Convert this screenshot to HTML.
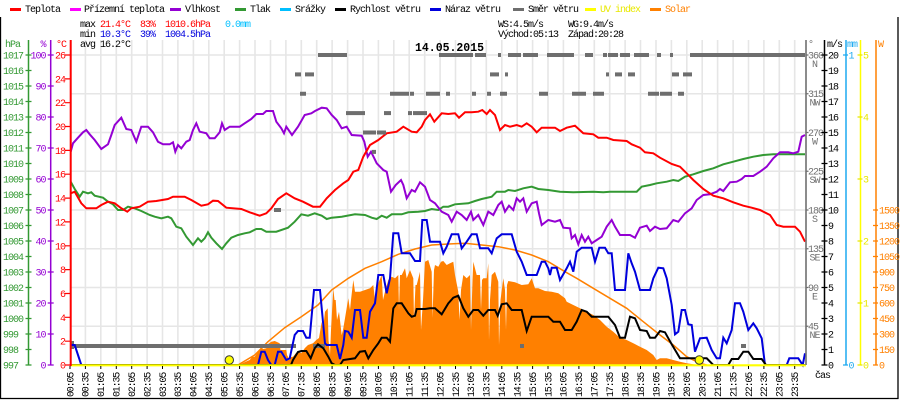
<!DOCTYPE html>
<html><head><meta charset="utf-8"><style>
html,body{margin:0;padding:0;background:#fff;}
svg{display:block;}
text{font-family:"Liberation Mono","DejaVu Sans Mono",monospace;font-size:10px;letter-spacing:-1px;}
.b{font-weight:bold;font-size:11.5px;letter-spacing:0;}
.xl text{letter-spacing:-1.2px;}
</style></head><body>
<svg width="900" height="400" viewBox="0 0 900 400" xmlns="http://www.w3.org/2000/svg">
<rect x="0" y="0" width="900" height="400" fill="#fff"/>
<!-- frame -->
<path d="M0.5 17V399M898 17V399M0 398.5H898.5" stroke="#000" stroke-width="1.3" fill="none"/>

<!-- legend -->
<g>
<rect x="10" y="8" width="11" height="3" fill="#ff0000"/><text x="25" y="12">Teplota</text>
<rect x="70" y="8" width="11" height="3" fill="#ff00ff"/><text x="84" y="12">Přízemní teplota</text>
<rect x="170" y="8" width="11" height="3" fill="#9400d3"/><text x="185" y="12">Vlhkost</text>
<rect x="235" y="8" width="11" height="3" fill="#339933"/><text x="250" y="12">Tlak</text>
<rect x="280" y="8" width="11" height="3" fill="#00bfff"/><text x="295" y="12">Srážky</text>
<rect x="335" y="8" width="11" height="3" fill="#000"/><text x="350" y="12">Rychlost větru</text>
<rect x="430" y="8" width="11" height="3" fill="#0000dd"/><text x="445" y="12">Náraz větru</text>
<rect x="513" y="8" width="11" height="3" fill="#6e6e6e"/><text x="528" y="12">Směr větru</text>
<rect x="585" y="8" width="11" height="3" fill="#ffff00"/><text x="600" y="12" fill="#e8e800">UV index</text>
<rect x="650" y="8" width="11" height="3" fill="#ff8000"/><text x="665" y="12" fill="#ff8000">Solar</text>
</g>

<!-- stats -->
<text x="80" y="27">max</text><text x="100" y="27" fill="#ff0000">21.4°C</text><text x="140" y="27" fill="#ff0000">83%</text><text x="165" y="27" fill="#ff0000">1010.6hPa</text><text x="225" y="27" fill="#00bfff">0.0mm</text>
<text x="80" y="37">min</text><text x="100" y="37" fill="#0000dd">10.3°C</text><text x="140" y="37" fill="#0000dd">39%</text><text x="165" y="37" fill="#0000dd">1004.5hPa</text>
<text x="498" y="27">WS:4.5m/s</text><text x="568" y="27">WG:9.4m/s</text>
<text x="498" y="37">Východ:05:13</text><text x="568" y="37">Západ:20:28</text>

<!-- grid -->
<path d="M85.4 40V365M100.8 40V365M116.3 40V365M131.7 40V365M147.1 40V365M162.5 40V365M177.9 40V365M193.4 40V365M208.8 40V365M224.2 40V365M239.6 40V365M255 40V365M270.5 40V365M285.9 40V365M301.3 40V365M316.7 40V365M332.1 40V365M347.6 40V365M363 40V365M378.4 40V365M393.8 40V365M409.2 40V365M424.7 40V365M440.1 40V365M455.5 40V365M470.9 40V365M486.3 40V365M501.8 40V365M517.2 40V365M532.6 40V365M548 40V365M563.4 40V365M578.9 40V365M594.3 40V365M609.7 40V365M625.1 40V365M640.5 40V365M656 40V365M671.4 40V365M686.8 40V365M702.2 40V365M717.6 40V365M733.1 40V365M748.5 40V365M763.9 40V365M779.3 40V365M794.7 40V365" stroke="#e6e6e6" stroke-width="1.6" fill="none"/>
<path d="M70 55H806M70 93.75H806M70 132.5H806M70 171.25H806M70 210H806M70 248.75H806M70 287.5H806M70 326.25H806" stroke="#e6e6e6" stroke-width="1.6" fill="none"/>

<text x="80" y="47">avg 16.2°C</text>
<text x="415" y="51" class="b">14.05.2015</text>

<!-- solar area -->
<polygon fill="#ff8000" points="234,365 241,364 245,362 249.7,360 252,357 254.7,356.7 258,352 261.3,346.7 263,349 266.3,348.3 268,344 271.3,341.7 274.7,341 277,342 279.7,343.3 280.5,350 286.3,350 287,355 289.7,360 291,357 293,356.7 296,353 298,351.7 301.3,353.3 304.7,348.3 308,345 313,343.3 316.3,340 319,338 321.7,321.7 323,330 325,311.7 327.7,308.3 328.5,340 330,355 331,330 333.3,288.3 334.5,300 335.7,300 337,320 339,311.7 341.7,335 343,330 345,318.3 348.3,298.3 350,310 351,300 353.3,280 355,291.7 360,291.7 365,290 370,288.3 373.3,285 375,300 376,290 378.3,283.3 381.7,275 383,300 385,291.7 388.3,280 391.7,276.7 395,278.3 398.3,275 399,310 400,275 401.7,275 405,268.3 406.7,278.3 410,270 413.3,278.3 414,320 415.5,285 416.7,285 420,271.7 421,330 423,300 425,261.7 428.3,260 431.7,271.7 432.5,318 434,270 435,265 438.3,266.7 441,261.7 443.3,261 446.7,265 450,263.3 453.3,261.7 455,275 458.3,291.7 459.5,320 461,290 463.3,275 466.7,278.3 470,275 471,330 472.5,280 473.3,261.7 476.7,275 480,275 481,310 482,280 483.3,278.3 486.7,278.3 488.3,263.3 489,340 490,300 491.7,275 495,271.7 498.3,281.7 499,345 500.5,300 503.3,278.3 505,290 506,330 507,285 508.3,281 515,282.3 521.7,285 528.3,284.3 531.7,278.3 535,288.3 538.3,288.3 545,291 551.7,291.7 558.3,293.3 565,298.3 566.7,301.7 573.3,305 580,308.3 586.7,311.7 593.3,315 600,320 606.7,326.7 613.3,331.7 620,337.7 626.7,340 633.3,343.3 640,346.7 646.7,350 653.3,355 656.7,360 660,358.3 666.7,358.3 673.3,360 680,361.7 686.7,363.3 693.3,364.3 700,365"/>
<!-- theoretical solar -->
<polyline fill="none" stroke="#ff8000" stroke-width="1.5" points="238,365 254.7,355 268,341.7 284.7,327.7 301.3,316.7 318,305 331.7,290 348.3,278.3 365,268.3 381.7,261.7 398.3,254.3 415,249 431.7,245 448.3,244 465,243.3 481.7,245 498.3,246.7 515,250 531.7,255 548.3,261.7 565,271.7 576.7,278.3 593.3,288.3 610,298.3 626.7,308.3 643.3,321.7 660,335 673.3,345 686.7,356.7 700,363.3 706.7,365"/>

<!-- pressure -->
<polyline fill="none" stroke="#339933" stroke-width="2" points="70.7,181.7 74.7,189 79.7,196.7 83,191.7 88,193.3 91.3,192.3 94.7,195.7 103,197.7 108,201.7 113,204.3 118,210 123,210 128,206.7 134.7,208.3 141.3,211 149.7,215 154.7,216.7 161.3,218.3 168,216.7 171.3,218.3 176.3,226.7 181.3,228.3 186.3,236.7 193,245 198,238.3 201.3,241.7 204.7,238.3 208,232.3 211.3,237.7 216.3,243.3 222,249 226.3,243.3 231.3,237.7 238,235 244.7,233.3 249.7,232.3 256.3,229 261.3,229 266.3,231.7 276.3,231.7 288,227.7 294.7,221.7 301.3,214.3 308,215.7 314.7,213.3 321.7,215.7 326.7,219 331.7,217.7 341.7,216.7 355,214.3 365,215 371.7,217.7 376.7,219 381.7,215.7 386.7,217.7 391.7,214.3 401.7,214.3 408.3,212.3 418.3,211.7 425,211 431.7,209 438.3,210 443.3,206.7 448.3,206.7 455,204.3 468.3,203.3 475,201 481.7,199 491.7,196.7 496.7,191.7 505,191.7 508.3,190 515,191 523.3,188.3 531.7,186.7 538.3,189 548.3,190 560,191.7 573.3,192.3 593.3,191.7 603.3,192.3 610,191.7 636.7,191.7 641.7,186.7 650,185 656.7,183.3 666.7,181.7 673.3,180 678.3,181 685,176.7 693.3,174.3 703.3,171 713.3,168.3 723.3,164.3 733.3,161.7 743.3,159 753.3,156.7 763.3,155 773.3,154.3 786.7,154.3 805,154.3"/>
<!-- humidity -->
<polyline fill="none" stroke="#9400d3" stroke-width="2" points="70.7,151.7 73,143.3 78,137.7 83,132.3 86.3,130 89.7,134.3 94.7,140 101.3,149 108,144.3 111.3,135 114.7,125 121.3,117.7 126.3,129 131.3,130 136.3,141.7 141.3,126.7 148,126.7 153,132.3 158,141.7 163,144.3 169.7,144.3 173,142.3 175.3,151.7 178,145 181.3,148.3 186.3,141.7 189.7,140 193,130 196.3,123.3 199.7,131.7 206.3,133.3 209.7,138.3 214.7,138.3 219.7,132.3 222,123.3 224.7,130 229.7,126.7 239.7,126.7 244.7,123.3 251.3,119 256.3,114 263,114 266.3,111 273,111 276.3,121.7 281.3,128.3 284,133.3 286.3,126.7 292,135 298,126.7 304.7,115 311.3,113.3 315,111 321.7,107.7 326.7,108.3 331.7,115 336.7,120 341.7,128.3 346.7,126.7 351.7,135 361.7,135.7 364.3,141.7 367.7,156.7 371,151.7 374.3,158.3 376.7,163.3 383.3,170 386.7,171.7 391,191.7 395.7,185 401,180 403.3,185 406.7,198.3 411.7,190 415,191.7 420,182.3 425,186.7 430,200 435,203.3 441.7,211.7 448.3,215 451.7,221.7 456.7,211.7 461.7,215 466.7,220 471,211.7 473.3,220 478.3,215 483.3,225 488.3,211.7 493.3,215 498.3,205 501.7,201.7 505,211.7 509,205.7 513.3,210 516.7,198.3 520,201.7 523.3,198.3 526.7,211.7 531.7,203.3 536.7,201.7 539,213.3 541.7,225 548.3,220 555,221.7 560,220 563.3,227.7 570,228.3 571.7,238.3 575,235 578.3,244.3 581.7,235 585,241.7 588.3,236.7 591.7,243.3 596.7,240 601.7,236.7 606.7,226.7 611.7,220 615,226.7 620,235 630,235 635,237.7 640,227.7 646.7,225.7 650,231 655,226.7 660,229 666.7,228.3 673.3,220 678.3,221.7 685,213.3 691.7,208.3 696.7,200 703.3,195 710,194.3 716.7,191.7 720,189 723.3,191 730,182.3 736.7,181.7 741.7,179 745,176 753.3,176 760,171.7 766.7,166.7 773.3,158.3 780,152.3 788.3,152.3 793.3,153.3 798.3,151.7 801.7,136.7 805,135"/>
<!-- temperature -->
<polyline fill="none" stroke="#ff0000" stroke-width="2" points="70.7,193.3 74.7,191.7 81.3,203.3 86.3,208.3 96.3,208.3 101.3,205 108,201.7 114.7,203.3 121.3,208.3 127.3,211.7 131.3,208.3 139.7,206.7 148,201.7 156.3,201 168,199 173,196.7 184.7,196.7 191.3,200 201.3,205.7 208,204.3 213,200.7 218,201 226.3,207.7 241.3,209 249.7,212.3 259.7,215.7 266.3,213.3 271.3,208.3 278,199 286.3,193.3 294.7,198.3 303,201.7 313,206.7 320,206.7 326.7,198.3 335,190 343.3,183.3 348.3,180 353.3,171.7 358.3,170 363.3,156.7 370,145 378.3,140 386.7,133.3 396.7,131.7 403.3,126.7 411.7,131.7 416.7,132.3 421.7,126.7 425,120 430,114.3 434.3,121.7 441.7,113.3 448.3,114 455,113.3 459,117.7 465,112.3 471.7,112.3 478.3,111.7 482.3,110 486.7,114 490,110 495,115 500,130 505,125 510,126.7 516.7,125 521.7,126.7 526.7,123.3 531.7,126.7 536.7,132.3 541.7,127.7 555,127.7 560,131 566.7,127.7 575,125.7 583.3,133.3 593.3,134.3 598.3,137.7 606.7,137.7 613.3,140 626.7,141 631.7,144.3 640,147.7 645,152.3 653.3,153.3 660,157.7 671.7,164 680,166.7 686.7,173.3 693.3,180 703.3,189 713.3,195.7 723.3,198.3 733.3,202.3 743.3,205.7 751.7,207.7 760,210 770,215 776.7,225 783.3,226.7 795,226.7 800,231.7 805,241.7"/>

<!-- wind direction -->
<g fill="#6e6e6e">
<rect x="318" y="53" width="29" height="4"/><rect x="439" y="53" width="34" height="4"/><rect x="475" y="53" width="11" height="4"/><rect x="498" y="53" width="3" height="4"/><rect x="508" y="53" width="13" height="4"/><rect x="523" y="53" width="15" height="4"/><rect x="547" y="53" width="27" height="4"/><rect x="585" y="53" width="8" height="4"/><rect x="603" y="53" width="4" height="4"/><rect x="608" y="53" width="10" height="4"/><rect x="620" y="53" width="10" height="4"/><rect x="634" y="53" width="15" height="4"/><rect x="657" y="53" width="4" height="4"/><rect x="670" y="53" width="3" height="4"/><rect x="690" y="53" width="115" height="4"/>
<rect x="295" y="72.4" width="6" height="4"/><rect x="305" y="72.4" width="9" height="4"/><rect x="490" y="72.4" width="9" height="4"/><rect x="505" y="72.4" width="3" height="4"/><rect x="606" y="72.4" width="3" height="4"/><rect x="615" y="72.4" width="7" height="4"/><rect x="628" y="72.4" width="7" height="4"/><rect x="672" y="72.4" width="7" height="4"/><rect x="683" y="72.4" width="9" height="4"/>
<rect x="300" y="91.75" width="6" height="4"/><rect x="390" y="91.75" width="19" height="4"/><rect x="410" y="91.75" width="4" height="4"/><rect x="426" y="91.75" width="14" height="4"/><rect x="446" y="91.75" width="4" height="4"/><rect x="472" y="91.75" width="4" height="4"/><rect x="487" y="91.75" width="4" height="4"/><rect x="500" y="91.75" width="7" height="4"/><rect x="539" y="91.75" width="9" height="4"/><rect x="572" y="91.75" width="14" height="4"/><rect x="593" y="91.75" width="11" height="4"/><rect x="648" y="91.75" width="11" height="4"/><rect x="660" y="91.75" width="12" height="4"/><rect x="678" y="91.75" width="6" height="4"/>
<rect x="346" y="111.1" width="19" height="4"/><rect x="384" y="111.1" width="7" height="4"/><rect x="408" y="111.1" width="4" height="4"/><rect x="413" y="111.1" width="14" height="4"/>
<rect x="363" y="130.5" width="13" height="4"/><rect x="377" y="130.5" width="9" height="4"/>
<rect x="372" y="149.9" width="4" height="4"/>
<rect x="274" y="208" width="7" height="4"/>
<rect x="70" y="344" width="226" height="4"/><rect x="70" y="341" width="4" height="8"/><rect x="313" y="344" width="12" height="4"/><rect x="520" y="344" width="4" height="4"/><rect x="741" y="344" width="5" height="4"/>
</g>

<!-- gust -->
<polyline fill="none" stroke="#0000dd" stroke-width="2" points="70.7,345 74.7,345 78,355 81.3,365 258,365 261.3,351.7 264.7,351.7 268,360 271.3,365 274.7,365 278,351.7 281.3,351.7 286.3,360 289.7,358.3 294.7,335 298,331 303,331 306.3,337.7 309.7,337.7 314,290 320,290 325,343.3 326.7,345 336.7,345 340,359 343.3,345 345,331 348.3,331.7 351.7,337.7 355,310 360,310 363.3,337.7 366.7,337.7 370,311.7 375,303.3 378.3,275 383.3,275 386.7,293.3 390,278.3 393.3,233.3 398.3,233.3 401.7,253.3 410,253.3 415,261 420,261 422.3,220 426.7,220 430,241.7 440,241.7 443.3,253.3 446.7,246.7 451.7,234.3 458.3,234.3 461.7,248.3 466.7,241.7 471.7,234.3 476.7,234.3 480,248.3 488.3,248.3 491.7,253.3 496.7,238.3 501.7,234.3 511.7,234.3 516.7,251.7 521.7,261.7 526.7,275 536.7,275 541.7,261.7 545,261.7 548.3,268.3 550,275 551.7,267.7 556.7,267.7 560,280 566.7,268.3 570,261.7 573.3,271.7 576.7,251.7 581.7,247.7 591.7,247.7 595,261.7 599.3,247.7 605,247.7 608.3,253.3 611.7,253.3 615,290 625,290 628.3,253.3 631.7,263.3 635,271.7 640,290 650,290 653.3,278.3 658.3,267.7 663.3,268.3 666.7,278.3 671.7,305 675,334.3 678.3,331.7 681.7,310 685,310 688.3,324.3 691.7,325 695,351.7 700,338.3 706.7,337.7 711.7,350 716.7,358.3 720,358.3 723.3,337.7 726.7,343.3 731.7,330 735,303.3 740,303.3 743.3,311.7 748.3,330 753.3,323.3 756.7,328.3 761.7,338.3 765,365 786.7,365 789.3,358.3 798.3,358.3 802.7,365 805,353.3"/>
<!-- wind speed -->
<polyline fill="none" stroke="#000" stroke-width="2" points="70,365 291,365 293,360 298,352 301.3,351 306.3,351 310.7,358.3 314.7,348.3 318,344.3 323.3,348.3 328.3,356.7 331.7,363.3 335,365 340,365 343.3,360 355,358.3 360,351.7 365,351 368.3,358.3 373.3,350 378.3,343.3 381.7,337.7 386.7,337.7 390,341.7 393.3,308.3 396.7,303.3 401.7,303.3 408.3,313.3 411.7,316.7 415,315.7 416.7,309 425,309 430,308.3 435,308.3 441.7,314.3 448.3,303.3 453.3,297.7 458.3,295.7 463.3,308.3 468.3,316.7 473.3,310 478.3,310 483.3,315.7 488.3,310 495,310 497.7,315.7 501.7,304.3 506.7,303.3 511.7,310 521.7,310 526.7,331 531.7,316.7 548.3,316.7 553.3,321.7 560,321.7 565,330 571.7,330 576.7,321.7 581.7,310 586.7,311.7 591.7,316.7 608.3,316.7 615,325 620,337.7 625,337.7 630,316.7 635,318.3 640,330 646.7,331 650,337.7 655,337.7 660,331 665,332.3 671.7,344.3 680,358.3 706.7,358.3 713.3,365 728.3,365 731.7,359 738.3,359 743.3,351.7 748.3,351.7 753.3,359 761.7,359 766,365 805,365"/>

<!-- UV line -->
<path d="M70 365.3H806" stroke="#ffff00" stroke-width="2.2"/>
<circle cx="229.3" cy="360" r="4.2" fill="#ffff00" stroke="#333" stroke-width="1"/>
<circle cx="699.3" cy="360" r="4.2" fill="#ffff00" stroke="#333" stroke-width="1"/>

<!-- bottom ticks -->
<path d="M70 366v3M85.4 366v3M100.8 366v3M116.3 366v3M131.7 366v3M147.1 366v3M162.5 366v3M177.9 366v3M193.4 366v3M208.8 366v3M224.2 366v3M239.6 366v3M255 366v3M270.5 366v3M285.9 366v3M301.3 366v3M316.7 366v3M332.1 366v3M347.6 366v3M363 366v3M378.4 366v3M393.8 366v3M409.2 366v3M424.7 366v3M440.1 366v3M455.5 366v3M470.9 366v3M486.3 366v3M501.8 366v3M517.2 366v3M532.6 366v3M548 366v3M563.4 366v3M578.9 366v3M594.3 366v3M609.7 366v3M625.1 366v3M640.5 366v3M656 366v3M671.4 366v3M686.8 366v3M702.2 366v3M717.6 366v3M733.1 366v3M748.5 366v3M763.9 366v3M779.3 366v3M794.7 366v3" stroke="#000" stroke-width="1" fill="none"/>

<!-- left axes -->
<path d="M28.5 40V365" stroke="#339933" stroke-width="1.5"/>
<path d="M25.5 55h6M25.5 70.5h6M25.5 86h6M25.5 101.5h6M25.5 117h6M25.5 132.5h6M25.5 148h6M25.5 163.5h6M25.5 179h6M25.5 194.5h6M25.5 210h6M25.5 225.5h6M25.5 241h6M25.5 256.5h6M25.5 272h6M25.5 287.5h6M25.5 303h6M25.5 318.5h6M25.5 334h6M25.5 349.5h6M25.5 365h6" stroke="#339933" stroke-width="1.2"/>
<g fill="#339933">
<text x="5" y="47">hPa</text>
<text x="3" y="58.5">1017</text><text x="3" y="74">1016</text><text x="3" y="89.5">1015</text><text x="3" y="105">1014</text><text x="3" y="120.5">1013</text><text x="3" y="136">1012</text><text x="3" y="151.5">1011</text><text x="3" y="167">1010</text><text x="3" y="182.5">1009</text><text x="3" y="198">1008</text><text x="3" y="213.5">1007</text><text x="3" y="229">1006</text><text x="3" y="244.5">1005</text><text x="3" y="260">1004</text><text x="3" y="275.5">1003</text><text x="3" y="291">1002</text><text x="3" y="306.5">1001</text><text x="3" y="322">1000</text><text x="3" y="337.5">999</text><text x="3" y="353">998</text><text x="3" y="368.5">997</text>
</g>
<path d="M50.7 40V365" stroke="#9400d3" stroke-width="1.5"/>
<path d="M47.7 55h6M47.7 86h6M47.7 117h6M47.7 148h6M47.7 179h6M47.7 210h6M47.7 241h6M47.7 272h6M47.7 303h6M47.7 334h6M47.7 365h6" stroke="#9400d3" stroke-width="1.2"/>
<g fill="#9400d3" text-anchor="end">
<text x="45.5" y="47">%</text>
<text x="45.5" y="58.5">100</text><text x="45.5" y="89.5">90</text><text x="45.5" y="120.5">80</text><text x="45.5" y="151.5">70</text><text x="45.5" y="182.5">60</text><text x="45.5" y="213.5">50</text><text x="45.5" y="244.5">40</text><text x="45.5" y="275.5">30</text><text x="45.5" y="306.5">20</text><text x="45.5" y="337.5">10</text><text x="45.5" y="368.5">0</text>
</g>
<path d="M70.7 40V366" stroke="#ff0000" stroke-width="2"/>
<path d="M65 55h5M65 78.85h5M65 102.7h5M65 126.5h5M65 150.4h5M65 174.2h5M65 198.1h5M65 221.9h5M65 245.8h5M65 269.6h5M65 293.5h5M65 317.3h5M65 341.2h5M65 365h5" stroke="#ff0000" stroke-width="1.2"/>
<g fill="#ff0000" text-anchor="end">
<text x="66" y="47">°C</text>
<text x="65" y="58.5">26</text><text x="65" y="82.3">24</text><text x="65" y="106.2">22</text><text x="65" y="130">20</text><text x="65" y="153.9">18</text><text x="65" y="177.7">16</text><text x="65" y="201.6">14</text><text x="65" y="225.4">12</text><text x="65" y="249.3">10</text><text x="65" y="273.1">8</text><text x="65" y="297">6</text><text x="65" y="320.8">4</text><text x="65" y="344.7">2</text><text x="65" y="368.5">0</text>
</g>

<!-- right axes -->
<path d="M806 40V365" stroke="#707070" stroke-width="1.6"/>
<path d="M806 55h2.5M806 93.75h2.5M806 132.5h2.5M806 171.25h2.5M806 210h2.5M806 248.75h2.5M806 287.5h2.5M806 326.25h2.5" stroke="#707070" stroke-width="1.2"/>
<g fill="#707070">
<text x="808" y="47">°</text>
<text x="808" y="58.5">360</text><text x="808" y="97.2">315</text><text x="808" y="136">270</text><text x="808" y="174.7">225</text><text x="808" y="213.5">180</text><text x="808" y="252.2">135</text><text x="808" y="291">90</text><text x="808" y="329.7">45</text>
</g>
<g fill="#707070" text-anchor="middle">
<text x="814.5" y="67">N</text><text x="814.5" y="105.7">NW</text><text x="814.5" y="144.5">W</text><text x="814.5" y="183.2">SW</text><text x="814.5" y="222">S</text><text x="814.5" y="260.7">SE</text><text x="814.5" y="299.5">E</text><text x="814.5" y="338.2">NE</text>
</g>
<path d="M824.5 40V365" stroke="#000" stroke-width="1.5"/>
<path d="M821.5 55h6M821.5 70.5h6M821.5 86h6M821.5 101.5h6M821.5 117h6M821.5 132.5h6M821.5 148h6M821.5 163.5h6M821.5 179h6M821.5 194.5h6M821.5 210h6M821.5 225.5h6M821.5 241h6M821.5 256.5h6M821.5 272h6M821.5 287.5h6M821.5 303h6M821.5 318.5h6M821.5 334h6M821.5 349.5h6M821.5 365h6" stroke="#000" stroke-width="1.2"/>
<g fill="#000">
<text x="827" y="47">m/s</text>
<text x="828" y="58.5">20</text><text x="828" y="74">19</text><text x="828" y="89.5">18</text><text x="828" y="105">17</text><text x="828" y="120.5">16</text><text x="828" y="136">15</text><text x="828" y="151.5">14</text><text x="828" y="167">13</text><text x="828" y="182.5">12</text><text x="828" y="198">11</text><text x="828" y="213.5">10</text><text x="828" y="229">9</text><text x="828" y="244.5">8</text><text x="828" y="260">7</text><text x="828" y="275.5">6</text><text x="828" y="291">5</text><text x="828" y="306.5">4</text><text x="828" y="322">3</text><text x="828" y="337.5">2</text><text x="828" y="353">1</text><text x="828" y="368.5">0</text>
<text x="815" y="378">čas</text>
</g>
<path d="M846 40V365" stroke="#1eaaf0" stroke-width="1.5"/>
<path d="M843 55h5M843 365h5" stroke="#1eaaf0" stroke-width="1.2"/>
<g fill="#1eaaf0">
<text x="847" y="47">mm</text>
<text x="848.5" y="58.5">1</text><text x="848.5" y="368.5">0</text>
</g>
<path d="M860.5 40V365" stroke="#ffff00" stroke-width="1.5"/>
<path d="M857.5 55h5M857.5 117h5M857.5 179h5M857.5 241h5M857.5 303h5M857.5 365h5" stroke="#e8e800" stroke-width="1.2"/>
<g fill="#e8e800">
<text x="863" y="58.5">5</text><text x="863" y="120.5">4</text><text x="863" y="182.5">3</text><text x="863" y="244.5">2</text><text x="863" y="306.5">1</text><text x="863" y="368.5">0</text>
</g>
<path d="M876 40V365" stroke="#ff8000" stroke-width="1.5"/>
<path d="M873 210h5M873 225.5h5M873 241h5M873 256.5h5M873 272h5M873 287.5h5M873 303h5M873 318.5h5M873 334h5M873 349.5h5M873 365h5" stroke="#ff8000" stroke-width="1.2"/>
<g fill="#ff8000">
<text x="878" y="47">W</text>
<text x="879" y="213.5">1500</text><text x="879" y="229">1350</text><text x="879" y="244.5">1200</text><text x="879" y="260">1050</text><text x="879" y="275.5">900</text><text x="879" y="291">750</text><text x="879" y="306.5">600</text><text x="879" y="322">450</text><text x="879" y="337.5">300</text><text x="879" y="353">150</text><text x="879" y="368.5">0</text>
</g>

<!-- x labels -->
<g class="xl" text-anchor="end" fill="#000">
<text transform="translate(73.3,373) rotate(-90)">00:05</text>
<text transform="translate(88.7,373) rotate(-90)">00:35</text>
<text transform="translate(104.1,373) rotate(-90)">01:05</text>
<text transform="translate(119.6,373) rotate(-90)">01:35</text>
<text transform="translate(135,373) rotate(-90)">02:05</text>
<text transform="translate(150.4,373) rotate(-90)">02:35</text>
<text transform="translate(165.8,373) rotate(-90)">03:05</text>
<text transform="translate(181.2,373) rotate(-90)">03:35</text>
<text transform="translate(196.7,373) rotate(-90)">04:05</text>
<text transform="translate(212.1,373) rotate(-90)">04:35</text>
<text transform="translate(227.5,373) rotate(-90)">05:05</text>
<text transform="translate(242.9,373) rotate(-90)">05:35</text>
<text transform="translate(258.3,373) rotate(-90)">06:05</text>
<text transform="translate(273.8,373) rotate(-90)">06:35</text>
<text transform="translate(289.2,373) rotate(-90)">07:05</text>
<text transform="translate(304.6,373) rotate(-90)">07:35</text>
<text transform="translate(320,373) rotate(-90)">08:05</text>
<text transform="translate(335.4,373) rotate(-90)">08:35</text>
<text transform="translate(350.9,373) rotate(-90)">09:05</text>
<text transform="translate(366.3,373) rotate(-90)">09:35</text>
<text transform="translate(381.7,373) rotate(-90)">10:05</text>
<text transform="translate(397.1,373) rotate(-90)">10:35</text>
<text transform="translate(412.5,373) rotate(-90)">11:05</text>
<text transform="translate(428,373) rotate(-90)">11:35</text>
<text transform="translate(443.4,373) rotate(-90)">12:05</text>
<text transform="translate(458.8,373) rotate(-90)">12:35</text>
<text transform="translate(474.2,373) rotate(-90)">13:05</text>
<text transform="translate(489.6,373) rotate(-90)">13:35</text>
<text transform="translate(505.1,373) rotate(-90)">14:05</text>
<text transform="translate(520.5,373) rotate(-90)">14:35</text>
<text transform="translate(535.9,373) rotate(-90)">15:05</text>
<text transform="translate(551.3,373) rotate(-90)">15:35</text>
<text transform="translate(566.7,373) rotate(-90)">16:05</text>
<text transform="translate(582.2,373) rotate(-90)">16:35</text>
<text transform="translate(597.6,373) rotate(-90)">17:05</text>
<text transform="translate(613,373) rotate(-90)">17:35</text>
<text transform="translate(628.4,373) rotate(-90)">18:05</text>
<text transform="translate(643.8,373) rotate(-90)">18:35</text>
<text transform="translate(659.3,373) rotate(-90)">19:05</text>
<text transform="translate(674.7,373) rotate(-90)">19:35</text>
<text transform="translate(690.1,373) rotate(-90)">20:05</text>
<text transform="translate(705.5,373) rotate(-90)">20:35</text>
<text transform="translate(720.9,373) rotate(-90)">21:05</text>
<text transform="translate(736.4,373) rotate(-90)">21:35</text>
<text transform="translate(751.8,373) rotate(-90)">22:05</text>
<text transform="translate(767.2,373) rotate(-90)">22:35</text>
<text transform="translate(782.6,373) rotate(-90)">23:05</text>
<text transform="translate(798,373) rotate(-90)">23:35</text>
</g>
</svg>
</body></html>
